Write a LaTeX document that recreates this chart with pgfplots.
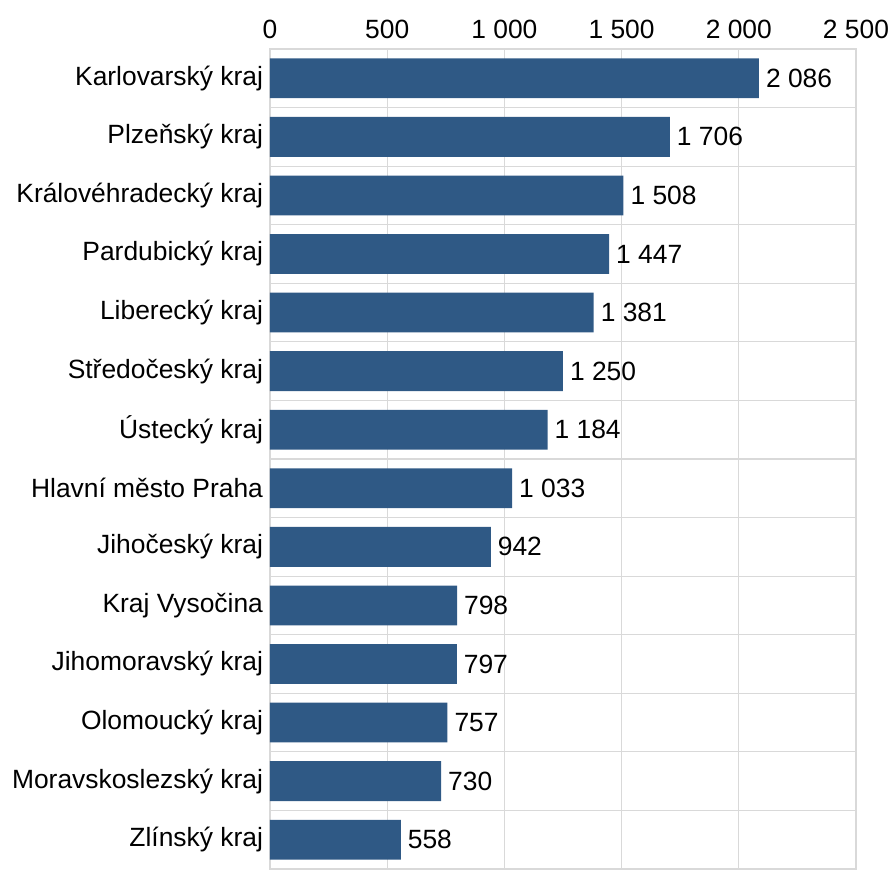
\documentclass[border=0pt]{standalone}
\usepackage{pgfplots}
\pgfplotsset{compat=1.18}
\usepackage{fontspec}
\setmainfont{Liberation Sans}
\definecolor{barblue}{RGB}{47,89,133}
\definecolor{gridgray}{RGB}{217,217,217}
\begin{document}
\begin{tikzpicture}
\begin{axis}[
    name=ax,
    scale only axis,
    width=293pt, height=410pt,
    at={(0,0)}, anchor=south west,
    xbar, bar width=0.68,
    xmin=0, xmax=2500,
    ymin=-0.5, ymax=13.5,
    y dir=reverse,
    xtick={0,500,1000,1500,2000,2500},
    xticklabels={0,500,1 000,1 500,2 000,2 500},
    xticklabel pos=top,
    xticklabel style={yshift=1.5pt},
    ytick={0,...,13},
    yticklabels={Karlovarský kraj,Plzeňský kraj,Královéhradecký kraj,Pardubický kraj,Liberecký kraj,Středočeský kraj,Ústecký kraj,Hlavní město Praha,Jihočeský kraj,Kraj Vysočina,Jihomoravský kraj,Olomoucký kraj,Moravskoslezský kraj,Zlínský kraj},
    minor ytick={-0.5,0.5,1.5,2.5,3.5,4.5,5.5,6.5,7.5,8.5,9.5,10.5,11.5,12.5,13.5},
    major tick length=0, minor tick length=0,
    xmajorgrids, yminorgrids,
    grid style={gridgray, line width=0.6pt},
    axis line style={gridgray, line width=0.6pt},
    tick label style={font=\fontsize{13.2}{15}\selectfont},
    nodes near coords,
    point meta=explicit symbolic,
    every node near coord/.append style={font=\fontsize{13.2}{15}\selectfont, black, anchor=west},
]
\addplot[fill=barblue, draw=none] coordinates {
    (2086,0) [2 086]
    (1706,1) [1 706]
    (1508,2) [1 508]
    (1447,3) [1 447]
    (1381,4) [1 381]
    (1250,5) [1 250]
    (1184,6) [1 184]
    (1033,7) [1 033]
    (942,8) [942]
    (798,9) [798]
    (797,10) [797]
    (757,11) [757]
    (730,12) [730]
    (558,13) [558]
};
\end{axis}
\pgfresetboundingbox
\path[use as bounding box] (-135pt,-0.5pt) rectangle (312pt,434.5pt);
\end{tikzpicture}
\end{document}
